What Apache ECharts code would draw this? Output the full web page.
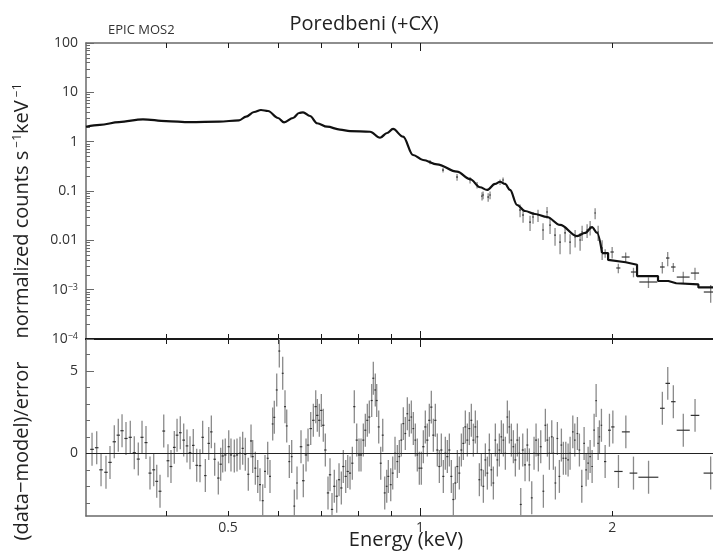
<!DOCTYPE html>
<html>
<head>
<meta charset="utf-8">
<script src="https://cdn.jsdelivr.net/npm/echarts@6/dist/echarts.min.js"></script>
<style>
html,body{margin:0;padding:0;background:#fff;}
#c{width:713px;height:552px;}
</style>
</head>
<body>
<div id="c"></div>
<script>
// ---------------- data ----------------
const energyMin = 0.2995, energyMax = 2.878;
const countsMin = 1e-4, countsMax = 100;
const residualMin = -3.8, residualMax = 6.93;

const countTickValues = [1e-4, 1e-3, 0.01, 0.1, 1, 10, 100];
const countTickLabels = ['10{sup|−4}', '10{sup|−3}', '0.01', '0.1', '1', '10', '100'];
const countMinorTicks = [2e-4,3e-4,4e-4,5e-4,6e-4,7e-4,8e-4,9e-4,
  2e-3,3e-3,4e-3,5e-3,6e-3,7e-3,8e-3,9e-3,
  0.02,0.03,0.04,0.05,0.06,0.07,0.08,0.09,
  0.2,0.3,0.4,0.5,0.6,0.7,0.8,0.9,
  2,3,4,5,6,7,8,9,
  20,30,40,50,60,70,80,90];
const energyMajorTicks = [1];
const energyMinorTicks = [0.4, 0.5, 0.6, 0.7, 0.8, 0.9, 2];
const energyLabelValues = [0.5, 1, 2];
const energyLabels = ['0.5', '1', '2'];
const residualMajorTicks = [0, 5];
const residualMinorTicks = [-3, -2, -1, 1, 2, 3, 4, 6];
const residualLabelValues = [0, 5];
const residualLabels = ['0', '5'];
const residualSigma = 1;

// smooth part of the folded model (below the 1.93 keV edge)
const modelEnergy = [0.2995,0.3150,0.3374,0.3679,0.3998,0.4359,0.4841,0.5203,0.5336,0.5493,
  0.5632,0.5777,0.5990,0.6121,0.6323,0.6461,0.6555,0.6722,0.6895,0.7149,
  0.7490,0.7766,0.8348,0.8654,0.8877,0.9070,0.9404,0.9750,1.0107,1.0632,
  1.1426,1.1975,1.2417,1.2735,1.3106,1.3344,1.3589,1.3836,1.4191,1.4605,
  1.5142,1.5812,1.6572,1.7620,1.8138,1.8599,1.8940,1.9285];
const modelCounts = [2.01,2.18,2.50,2.84,2.62,2.50,2.54,2.71,3.21,3.99,
  4.38,4.18,3.02,2.47,3.02,3.81,3.94,3.31,2.36,2.01,
  1.76,1.64,1.59,1.20,1.50,1.81,1.26,0.537,0.425,0.348,
  0.246,0.175,0.119,0.105,0.139,0.154,0.139,0.105,0.052,0.0393,
  0.0342,0.0297,0.0205,0.0122,0.0141,0.0186,0.0141,0.00553];
// stepped part of the model (wide bins above the edge)
const modelStepEnergy = [1.9285,1.971,1.971,2.10,2.188,2.188,2.36,2.36,2.45,2.52,2.73,2.73,2.878];
const modelStepCounts = [0.00553,0.00553,0.0040,0.0036,0.0032,0.00189,0.00189,0.00150,0.00150,0.00135,0.00128,0.00111,0.00111];

const dataEnergy = [1.0365,1.0863,1.1427,1.1976,1.2283,1.2506,1.2552,1.2785,1.2872,1.3345,
  1.3491,1.4345,1.4501,1.4871,1.5032,1.5305,1.5585,1.5812,1.5984,1.6275,
  1.6572,1.6875,1.7183,1.7497,1.7816,1.7945,1.8271,1.8471,1.8808,1.9013,
  1.9290,1.950,2.000,2.045,2.100,2.160,2.280,2.397,2.444,2.494,
  2.585,2.697,2.854];
const dataCounts = [0.387,0.266,0.192,0.167,0.132,0.079,0.083,0.0755,0.083,0.152,
  0.167,0.0412,0.0326,0.0235,0.0297,0.0326,0.0162,0.0375,0.0204,0.0128,
  0.00924,0.0141,0.00924,0.01168,0.01015,0.01475,0.0162,0.0186,0.0358,0.01475,
  0.00699,0.00553,0.0058,0.00275,0.00459,0.00228,0.00143,0.00288,0.00438,0.00288,
  0.00180,0.00217,0.000896];
const dataCountErr = [0.04,0.03,0.03,0.025,0.02,0.015,0.015,0.015,0.015,0.02,
  0.02,0.012,0.01,0.008,0.008,0.009,0.006,0.01,0.007,0.005,
  0.004,0.005,0.004,0.0045,0.004,0.005,0.005,0.006,0.009,0.005,
  0.003,0.0011,0.0015,0.0006,0.0011,0.0005,0.00035,0.00075,0.0014,0.0006,
  0.0005,0.0006,0.00035];
const dataEnergyHalfWidth = [0.004,0.004,0.004,0.004,0.004,0.004,0.004,0.004,0.004,0.004,
  0.004,0.005,0.005,0.005,0.005,0.005,0.005,0.005,0.005,0.005,
  0.005,0.005,0.005,0.005,0.005,0.005,0.005,0.005,0.005,0.005,
  0.006,0.010,0.012,0.015,0.030,0.020,0.074,0.020,0.015,0.020,
  0.060,0.040,0.070];

// residuals: [energy keV, (data-model)/error, bin half width keV]
const residualsLow = [[0.3061,0.24,0.002],[0.3113,0.34,0.002],[0.3162,-1.0,0.002],[0.3219,-1.15,0.002],
  [0.3266,-0.55,0.002],[0.3317,0.7,0.002],[0.3365,1.1,0.002],[0.3411,1.37,0.002],[0.3460,0.9,0.002],
  [0.3514,0.97,0.002],[0.3565,0.04,0.002],[0.3617,-0.35,0.002],[0.3666,0.97,0.002],[0.3719,0.65,0.002],
  [0.3773,-1.2,0.002],[0.3824,-1.0,0.002],[0.3866,-1.7,0.002],[0.3912,-2.3,0.002],[0.3965,1.35,0.002],
  [0.4026,-0.45,0.002],[0.4070,-0.8,0.002],[0.4119,0.36,0.002],[0.4160,1.1,0.002],[0.4209,1.25,0.002],
  [0.4261,0.8,0.002],[0.4312,0.45,0.002],[0.4359,0.04,0.002],[0.4411,0.48,0.002],[0.4466,-0.73,0.002],
  [0.4519,-0.75,0.002],[0.4563,0.97,0.002],[0.4607,-1.35,0.002],[0.4664,0.6,0.002],[0.4708,1.3,0.002],
  [0.4765,-0.36,0.002],[0.4828,-1.5,0.002],[0.4870,-0.66,0.002],[0.4905,-0.16,0.002],[0.4951,-0.1,0.002],
  [0.5013,0.4,0.002],[0.5054,-0.1,0.002],[0.5115,-0.16,0.002],[0.5165,-0.1,0.002],[0.5221,0.0,0.002],
  [0.5272,0.3,0.002],[0.5322,-0.06,0.002],[0.5380,-1.27,0.002],[0.5433,0.75,0.002],[0.5466,-0.2,0.002],
  [0.5518,-0.9,0.002],[0.5566,-1.4,0.002],[0.5612,-1.9,0.002],[0.5667,-2.87,0.002],[0.5714,-1.1,0.002],
  [0.5770,-0.3,0.002],[0.5818,-1.4,0.002],[0.5875,1.78,0.002],[0.5909,2.18,0.002],[0.5961,3.84,0.002],
  [0.6017,6.2,0.002],[0.6091,4.85,0.002],[0.6142,2.83,0.002],[0.6180,1.66,0.002],[0.6238,-0.5,0.002],
  [0.6292,-0.2,0.002],[0.6352,-3.2,0.002],[0.6414,-1.8,0.002]];
const residualsMid = [[0.6507,0.4,0.003],[0.6561,-1.66,0.003],[0.6626,-0.1,0.003],[0.6674,0.5,0.003],
  [0.6739,1.5,0.003],[0.6803,2.0,0.003],[0.6862,2.83,0.003],[0.6901,2.3,0.003],[0.6951,2.0,0.003],
  [0.7002,2.6,0.003],[0.7052,1.7,0.003],[0.7104,0.2,0.003],[0.7173,-2.4,0.003],[0.7225,-1.3,0.003],
  [0.7277,-3.4,0.003],[0.7338,-2.0,0.003],[0.7402,-2.6,0.003],[0.7464,-1.6,0.003],[0.7526,-2.1,0.003],
  [0.7580,-0.8,0.003],[0.7646,-1.4,0.003],[0.7702,-1.1,0.003],[0.7766,-1.2,0.003],[0.7831,-0.6,0.003],
  [0.7887,2.83,0.003],[0.7956,0.8,0.003],[0.8022,-0.1,0.003],[0.8080,-0.1,0.003],[0.8148,0.8,0.003],
  [0.8207,1.4,0.003],[0.8266,2.0,0.003],[0.8326,2.2,0.003],[0.8398,3.2,0.003],[0.8447,4.55,0.003],
  [0.8508,3.84,0.003],[0.8551,3.2,0.003],[0.8613,1.6,0.003],[0.8676,-0.6,0.003],[0.8739,1.1,0.003],
  [0.8802,-2.4,0.003],[0.8866,-2.0,0.003],[0.8917,-1.4,0.003],[0.8995,-1.9,0.003],[0.9060,-1.2,0.003],
  [0.9135,0.0,0.003],[0.9212,-0.5,0.003],[0.9278,-0.2,0.003],[0.9345,0.8,0.003],[0.9413,1.8,0.003],
  [0.9481,1.2,0.003],[0.9550,2.4,0.003],[0.9619,2.0,0.003],[0.9689,2.2,0.003],[0.9759,1.5,0.003],
  [0.9830,0.8,0.003],[0.9901,-0.1,0.003],[0.9973,-0.9,0.003],[1.0045,-0.9,0.004],[1.0118,0.4,0.004],
  [1.0191,1.6,0.004],[1.0265,0.8,0.004],[1.0339,2.0,0.004],[1.0414,2.8,0.004],[1.0490,1.1,0.004],
  [1.0566,2.0,0.004],[1.0642,0.2,0.004],[1.0720,-0.8,0.004],[1.0797,0.2,0.004],[1.0875,-1.4,0.004],
  [1.0954,0.0,0.004],[1.1034,-0.2,0.004],[1.1114,0.2,0.004],[1.1194,-1.4,0.004],[1.1275,-2.8,0.004],
  [1.1357,-1.8,0.004],[1.1439,-0.8,0.004],[1.1522,-1.2,0.004],[1.1606,0.2,0.004],[1.1690,0.6,0.004],
  [1.1774,1.6,0.004],[1.1860,0.8,0.004],[1.1946,1.5,0.004],[1.2032,2.0,0.004],[1.2120,0.8,0.004],
  [1.2207,1.6,0.004],[1.2296,1.0,0.004],[1.2385,-1.6,0.004],[1.2475,-1.0,0.004],[1.2565,-2.0,0.004],
  [1.2656,-0.4,0.004],[1.2748,-1.2,0.004],[1.2840,0.2,0.004],[1.2933,-1.0,0.004],[1.3027,-1.8,0.004],
  [1.3121,0.8,0.004],[1.3216,-0.4,0.004],[1.3312,0.2,0.004],[1.3408,1.0,0.004],[1.3505,0.8,0.004],
  [1.3603,0.0,0.004],[1.3702,2.2,0.004],[1.3801,1.6,0.004],[1.3901,0.8,0.004],[1.4002,0.4,0.004],
  [1.4103,-0.4,0.005],[1.4205,0.8,0.005],[1.4308,0.0,0.005]];
const residualsHigh = [[1.4381,-3.1,0.005],[1.4485,0.2,0.005],[1.4605,-0.7,0.005],[1.4727,0.5,0.005],
  [1.4834,-0.7,0.005],[1.4963,-2.7,0.005],[1.5088,0.0,0.005],[1.5197,0.8,0.005],[1.5324,-0.1,0.005],
  [1.5457,0.4,0.005],[1.5604,-2.3,0.005],[1.5717,1.7,0.005],[1.5831,0.8,0.005],[1.5946,0.0,0.005],
  [1.6084,1.0,0.005],[1.6177,0.0,0.005],[1.6295,-1.8,0.005],[1.6413,0.9,0.005],[1.6532,-1.4,0.005],
  [1.6652,0.5,0.005],[1.6772,-0.3,0.005],[1.6918,-0.3,0.005],[1.7060,-0.4,0.005],[1.7183,0.0,0.005],
  [1.7352,1.3,0.005],[1.7477,0.8,0.005],[1.7643,1.2,0.005],[1.7771,0.2,0.005],[1.7925,-2.0,0.005],
  [1.8075,0.6,0.005],[1.8206,-1.0,0.005],[1.8339,-0.6,0.005],[1.8471,-0.2,0.005],[1.8605,-0.8,0.005],
  [1.8740,1.4,0.005],[1.8876,3.2,0.005],[1.9013,0.6,0.005],[1.9102,1.0,0.005],[1.9241,1.7,0.005],
  [1.9500,-0.5,0.008],[1.9806,1.4,0.010],[2.0051,1.6,0.012],[2.0460,-1.1,0.031],[2.1014,1.3,0.030],
  [2.1600,-1.2,0.030],[2.2808,-1.45,0.082],[2.3973,2.73,0.020],[2.4445,4.24,0.020],[2.4942,3.13,0.020],
  [2.5854,1.4,0.061],[2.6974,2.3,0.042],[2.8539,-1.2,0.072]];

// ---------------- chart ----------------
const FONT = '"Open Sans", "Noto Sans", sans-serif';
const TEXT = '#333';
const AXIS_GRAY = '#6a6a6a';
const AXIS_DARK = '#1a1a1a';

function labelFor(values, labels) {
  return function (v) {
    for (let i = 0; i < values.length; i++) {
      if (v === values[i] || Math.abs(Math.log10(v) - Math.log10(values[i])) < 1e-6) return labels[i];
    }
    return '';
  };
}
function linearLabelFor(values, labels) {
  return function (v) {
    for (let i = 0; i < values.length; i++) if (Math.abs(v - values[i]) < 1e-9) return labels[i];
    return '';
  };
}

function energyAxis(gridIndex, position, ticks, tickLen, line, withLabels) {
  return {
    type: 'log', logBase: 10, gridIndex: gridIndex, position: position,
    min: energyMin, max: energyMax,
    axisLine: line ? { show: true, onZero: false, lineStyle: { color: line.color, width: line.width } } : { show: false, onZero: false },
    axisTick: { show: true, inside: true, length: tickLen, customValues: ticks, lineStyle: { color: AXIS_DARK, width: 1 } },
    axisLabel: withLabels ? {
      show: true, customValues: energyLabelValues, margin: 5, color: TEXT, fontSize: 14, fontFamily: FONT,
      formatter: labelFor(energyLabelValues, energyLabels)
    } : { show: false },
    splitLine: { show: false }, minorTick: { show: false }, minorSplitLine: { show: false }
  };
}

const xAxes = [
  energyAxis(0, 'bottom', energyMajorTicks, 8, { color: AXIS_DARK, width: 2 }, false),
  energyAxis(0, 'bottom', energyMinorTicks, 5, null, false),
  energyAxis(0, 'top', energyMajorTicks, 8, { color: AXIS_GRAY, width: 1.5 }, false),
  energyAxis(0, 'top', energyMinorTicks, 5, null, false),
  energyAxis(1, 'bottom', energyMajorTicks, 8, { color: AXIS_GRAY, width: 1.5 }, true),
  energyAxis(1, 'bottom', energyMinorTicks, 5, null, false),
  energyAxis(1, 'top', energyMajorTicks, 8, { color: AXIS_DARK, width: 2 }, false),
  energyAxis(1, 'top', energyMinorTicks, 5, null, false)
];

const yAxes = [
  {
    type: 'log', logBase: 10, gridIndex: 0, position: 'left', min: countsMin, max: countsMax,
    axisLine: { show: true, onZero: false, lineStyle: { color: AXIS_GRAY, width: 1.5 } },
    axisTick: { show: true, inside: true, length: 8, customValues: countTickValues, lineStyle: { color: AXIS_GRAY } },
    axisLabel: {
      show: true, customValues: countTickValues, margin: 8, color: TEXT, fontSize: 14, fontFamily: FONT,
      formatter: labelFor(countTickValues, countTickLabels),
      rich: { sup: { fontSize: 9, verticalAlign: 'top', color: TEXT, fontFamily: FONT } }
    },
    splitLine: { show: false }, minorTick: { show: false }
  },
  {
    type: 'log', logBase: 10, gridIndex: 0, position: 'left', min: countsMin, max: countsMax,
    axisLine: { show: false, onZero: false },
    axisTick: { show: true, inside: true, length: 4, customValues: countMinorTicks, lineStyle: { color: AXIS_GRAY } },
    axisLabel: { show: false }, splitLine: { show: false }
  },
  {
    type: 'value', gridIndex: 1, position: 'left', min: residualMin, max: residualMax,
    axisLine: { show: true, onZero: false, lineStyle: { color: AXIS_GRAY, width: 1.5 } },
    axisTick: { show: true, inside: true, length: 8, customValues: residualMajorTicks, lineStyle: { color: AXIS_GRAY } },
    axisLabel: {
      show: true, customValues: residualLabelValues, margin: 8, color: TEXT, fontSize: 14, fontFamily: FONT,
      formatter: linearLabelFor(residualLabelValues, residualLabels)
    },
    splitLine: { show: false }
  },
  {
    type: 'value', gridIndex: 1, position: 'left', min: residualMin, max: residualMax,
    axisLine: { show: false, onZero: false },
    axisTick: { show: true, inside: true, length: 4, customValues: residualMinorTicks, lineStyle: { color: AXIS_GRAY } },
    axisLabel: { show: false }, splitLine: { show: false }
  }
];

function crossRender(params, api) {
  const e = api.value(0), v = api.value(1), dx = api.value(2), dy = api.value(3);
  const cs = params.coordSys;
  const top = cs.y, bottom = cs.y + cs.height;
  const clampY = (y) => Math.min(bottom, Math.max(top, y));
  const c = api.coord([e, v]);
  const hi = api.coord([e, v + dy]);
  const lo = api.coord([e, v - dy]);
  const l = api.coord([e - dx, v]);
  const r = api.coord([e + dx, v]);
  const children = [];
  const y1 = clampY(hi[1]), y2 = clampY(lo[1]);
  if (y2 > y1) {
    children.push({ type: 'line', shape: { x1: c[0], y1: y1, x2: c[0], y2: y2 }, style: { stroke: '#8a8a8a', lineWidth: 1.3 } });
  }
  if (c[1] >= top && c[1] <= bottom) {
    children.push({ type: 'line', shape: { x1: l[0], y1: c[1], x2: r[0], y2: c[1] }, style: { stroke: '#333', lineWidth: 1.2 } });
  }
  return { type: 'group', children: children };
}

const allResiduals = residualsLow.concat(residualsMid, residualsHigh);

const option = {
  animation: false,
  backgroundColor: '#fff',
  textStyle: { fontFamily: FONT },
  grid: [
    { left: 86, top: 43, width: 627, height: 296, containLabel: false, outerBoundsMode: 'none' },
    { left: 86, top: 339, width: 627, height: 177, containLabel: false, outerBoundsMode: 'none' }
  ],
  xAxis: xAxes,
  yAxis: yAxes,
  series: [
    {
      type: 'custom', name: 'data', xAxisIndex: 0, yAxisIndex: 0, z: 2,
      renderItem: crossRender,
      encode: { x: 0, y: 1 },
      data: dataEnergy.map((e, i) => [e, dataCounts[i], dataEnergyHalfWidth[i], dataCountErr[i]])
    },
    {
      type: 'line', name: 'model', xAxisIndex: 0, yAxisIndex: 0, z: 3,
      showSymbol: false, symbol: 'none', smooth: 0.35, smoothMonotone: 'x',
      lineStyle: { color: '#111', width: 2.2 },
      data: modelEnergy.map((e, i) => [e, modelCounts[i]])
    },
    {
      type: 'line', name: 'model bins', xAxisIndex: 0, yAxisIndex: 0, z: 3,
      showSymbol: false, symbol: 'none', smooth: false,
      lineStyle: { color: '#111', width: 2.2 },
      data: modelStepEnergy.map((e, i) => [e, modelStepCounts[i]])
    },
    {
      type: 'custom', name: 'residuals', xAxisIndex: 4, yAxisIndex: 2, z: 2,
      renderItem: crossRender,
      encode: { x: 0, y: 1 },
      data: allResiduals.map((r) => [r[0], r[1], r[2], residualSigma]),
      markLine: {
        silent: true, symbol: ['none', 'none'], label: { show: false },
        lineStyle: { color: '#222', width: 1, type: 'solid' },
        data: [{ yAxis: 0 }]
      }
    }
  ],
  graphic: [
    { type: 'text', x: 364, y: 24, style: { text: 'Poredbeni (+CX)', fontSize: 20, fontFamily: FONT, fill: '#222', align: 'center', verticalAlign: 'middle' } },
    { type: 'text', x: 108, y: 30, style: { text: 'EPIC MOS2', fontSize: 13, fontFamily: FONT, fill: TEXT, align: 'left', verticalAlign: 'middle' } },
    { type: 'text', x: 406, y: 540, style: { text: 'Energy (keV)', fontSize: 20, fontFamily: FONT, fill: '#222', align: 'center', verticalAlign: 'middle' } },
    { type: 'text', x: 22, y: 211, rotation: Math.PI / 2,
      style: { text: 'normalized counts s{sup| −1}keV{sup| −1}', fontSize: 20, fontFamily: FONT, fill: '#222', align: 'center', verticalAlign: 'middle',
        rich: { sup: { fontSize: 12, fontFamily: FONT, fill: '#222', verticalAlign: 'top' } } } },
    { type: 'text', x: 22, y: 451, rotation: Math.PI / 2,
      style: { text: '(data−model)/error', fontSize: 20, fontFamily: FONT, fill: '#222', align: 'center', verticalAlign: 'middle' } }
  ]
};

const chart = echarts.init(document.getElementById('c'), null, { renderer: 'canvas' });
chart.setOption(option);
</script>
</body>
</html>
